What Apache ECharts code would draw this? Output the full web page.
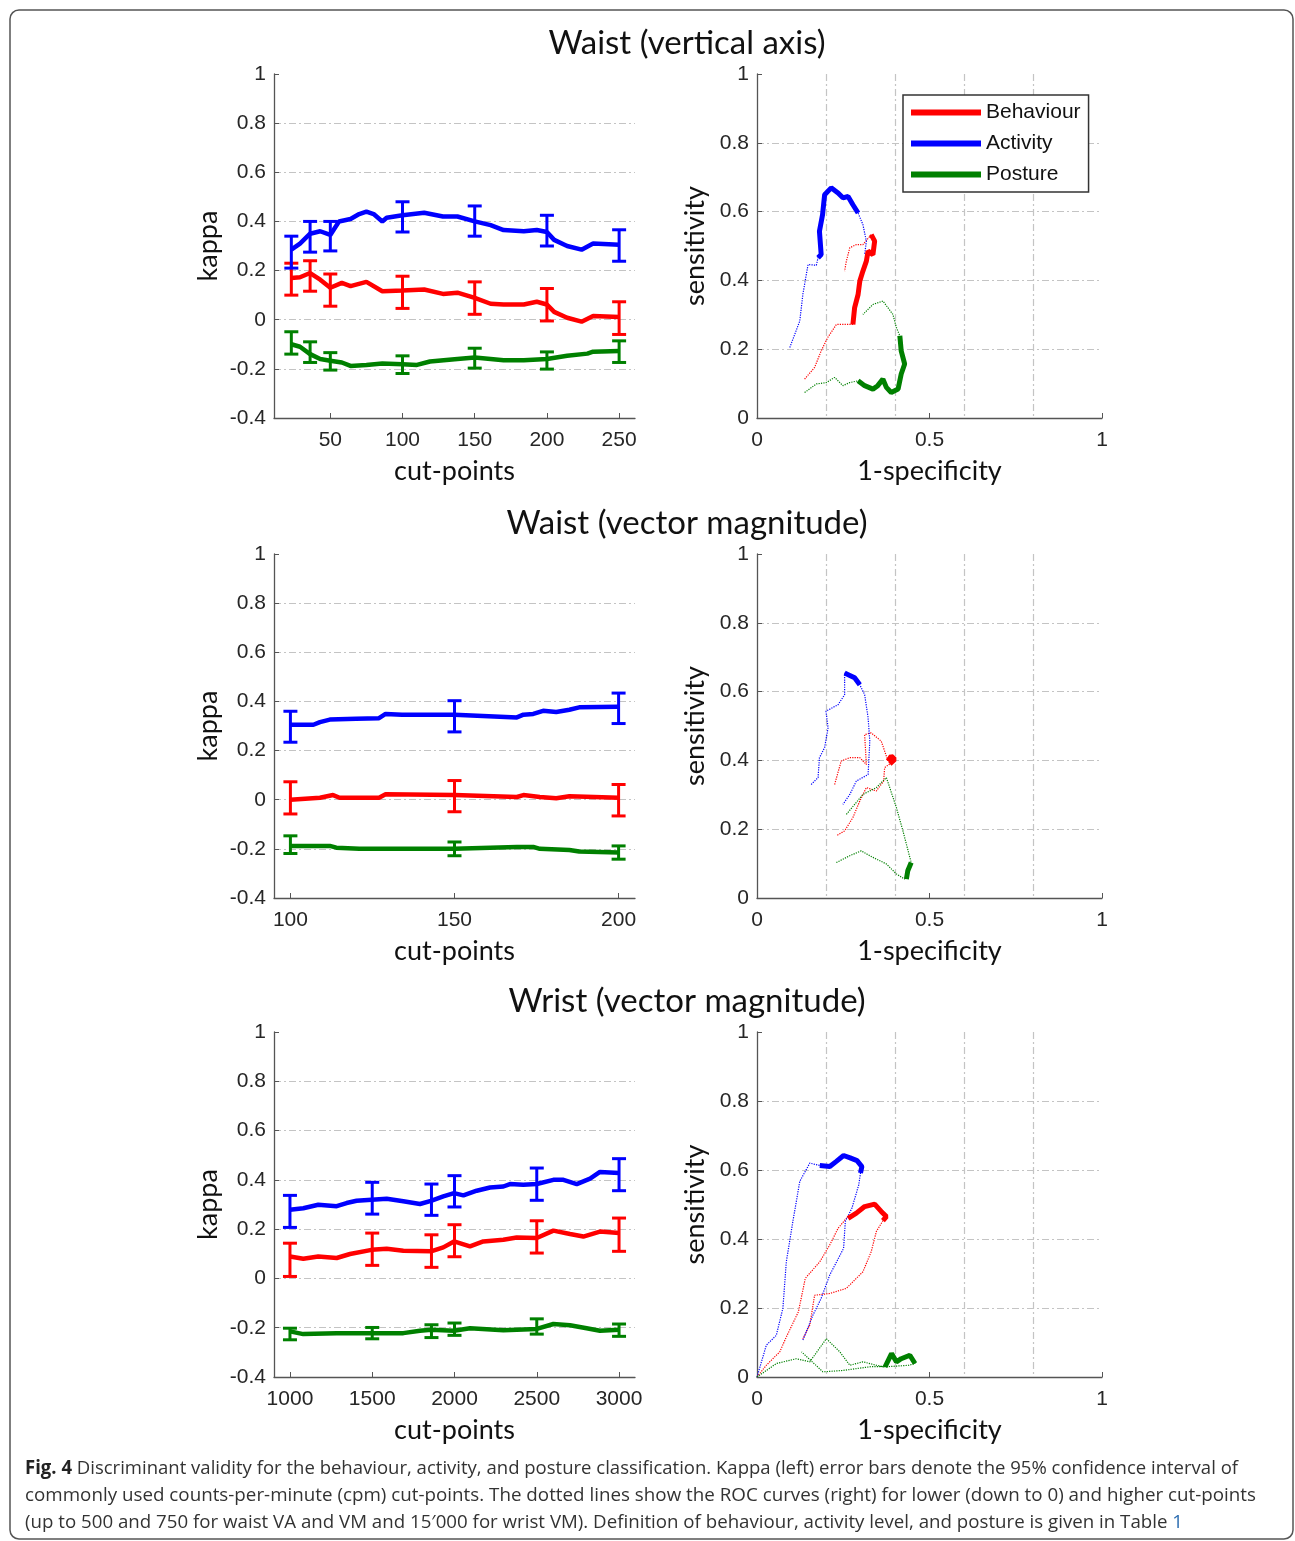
<!DOCTYPE html>
<html>
<head>
<meta charset="utf-8">
<script src="https://cdn.jsdelivr.net/npm/echarts@6/dist/echarts.min.js"></script>
<style>
  html, body { margin: 0; padding: 0; background: #fff; }
  #main { width: 1295px; height: 1541px; }
  #err { position: absolute; left: 20px; top: 20px; font: 14px monospace; white-space: pre-wrap; color: #900; }
</style>
</head>
<body>
<div id="main"></div>
<div id="err"></div>
<script>
// ---- kappa curves (cut-point, kappa) ----
var vaActKappa = [[23,0.285],[29,0.31],[36,0.35],[43,0.36],[50,0.345],[56,0.40],[64,0.41],[70,0.43],[75,0.44],[80,0.43],[86,0.40],[89,0.415],[100,0.425],[115,0.435],[128,0.42],[138,0.42],[150,0.40],[161,0.385],[170,0.365],[184,0.36],[193,0.365],[200,0.357],[205,0.325],[214,0.30],[224,0.285],[232,0.31],[250,0.305]];
var vaBehKappa = [[23,0.17],[29,0.173],[36,0.19],[43,0.163],[50,0.13],[58,0.15],[64,0.137],[75,0.154],[86,0.116],[100,0.119],[115,0.123],[128,0.105],[138,0.11],[150,0.089],[161,0.065],[170,0.062],[184,0.062],[193,0.073],[200,0.062],[205,0.032],[214,0.008],[224,-0.008],[232,0.015],[250,0.011]];
var vaPosKappa = [[23,-0.10],[29,-0.11],[36,-0.14],[43,-0.16],[50,-0.167],[58,-0.174],[64,-0.188],[75,-0.184],[86,-0.178],[100,-0.181],[110,-0.184],[119,-0.17],[138,-0.16],[150,-0.154],[161,-0.16],[170,-0.165],[184,-0.165],[200,-0.16],[214,-0.147],[228,-0.138],[232,-0.13],[250,-0.127]];
// error bars: [cut-point, low, high]
var vaActErr = [[23,0.21,0.34],[36,0.275,0.40],[50,0.28,0.40],[100,0.357,0.48],[150,0.34,0.463],[200,0.30,0.425],[250,0.238,0.366]];
var vaBehErr = [[23,0.10,0.23],[36,0.116,0.24],[50,0.055,0.186],[100,0.046,0.177],[150,0.022,0.154],[200,-0.005,0.127],[250,-0.06,0.073]];
var vaPosErr = [[23,-0.14,-0.049],[36,-0.174,-0.09],[50,-0.205,-0.134],[100,-0.219,-0.147],[150,-0.197,-0.116],[200,-0.201,-0.131],[250,-0.174,-0.086]];

var vmActKappa = [[100,0.305],[107,0.305],[109,0.316],[112,0.326],[120,0.33],[127,0.332],[129,0.349],[134,0.346],[150,0.346],[169,0.335],[171,0.346],[174,0.349],[177,0.362],[181,0.357],[185,0.366],[188,0.376],[200,0.378]];
var vmBehKappa = [[100,0],[109,0.008],[113,0.019],[115,0.008],[127,0.008],[129,0.022],[150,0.019],[169,0.011],[171,0.019],[176,0.011],[181,0.006],[185,0.014],[200,0.008]];
var vmPosKappa = [[100,-0.188],[112,-0.188],[114,-0.195],[121,-0.20],[150,-0.20],[169,-0.192],[174,-0.192],[176,-0.20],[185,-0.205],[188,-0.211],[200,-0.215]];
var vmActErr = [[100,0.234,0.36],[150,0.276,0.403],[200,0.31,0.434]];
var vmBehErr = [[100,-0.058,0.073],[150,-0.049,0.078],[200,-0.066,0.062]];
var vmPosErr = [[100,-0.219,-0.147],[150,-0.228,-0.172],[200,-0.242,-0.188]];

var wrActKappa = [[1000,0.279],[1081,0.285],[1172,0.299],[1284,0.293],[1344,0.306],[1405,0.315],[1496,0.319],[1588,0.323],[1689,0.313],[1790,0.302],[1857,0.315],[1932,0.333],[1997,0.346],[2054,0.337],[2135,0.356],[2216,0.369],[2297,0.373],[2337,0.383],[2418,0.38],[2500,0.383],[2601,0.40],[2662,0.40],[2743,0.383],[2824,0.405],[2884,0.432],[3000,0.428]];
var wrBehKappa = [[1000,0.089],[1081,0.08],[1172,0.089],[1284,0.083],[1365,0.099],[1496,0.116],[1588,0.12],[1689,0.112],[1857,0.11],[1932,0.126],[1997,0.15],[2094,0.13],[2175,0.15],[2297,0.157],[2378,0.166],[2500,0.164],[2601,0.194],[2702,0.18],[2783,0.17],[2884,0.19],[3000,0.184]];
var wrPosKappa = [[1000,-0.215],[1081,-0.226],[1284,-0.222],[1496,-0.222],[1689,-0.222],[1790,-0.212],[1857,-0.208],[1997,-0.212],[2094,-0.202],[2297,-0.21],[2500,-0.205],[2601,-0.185],[2702,-0.19],[2803,-0.202],[2884,-0.212],[3000,-0.208]];
var wrActErr = [[1000,0.207,0.337],[1500,0.261,0.39],[1860,0.256,0.383],[2000,0.29,0.417],[2500,0.317,0.448],[3000,0.356,0.486]];
var wrBehErr = [[1000,0.008,0.143],[1500,0.053,0.184],[1860,0.045,0.177],[2000,0.088,0.218],[2500,0.103,0.234],[3000,0.11,0.245]];
var wrPosErr = [[1000,-0.249,-0.202],[1500,-0.245,-0.199],[1860,-0.24,-0.188],[2000,-0.231,-0.181],[2500,-0.226,-0.164],[3000,-0.235,-0.185]];

// ---- ROC curves (1-specificity, sensitivity): lower tail, core (common cut-points), upper tail ----
var vaActRoc = {low: [[0.095,0.205],[0.124,0.282],[0.133,0.36],[0.148,0.446],[0.172,0.444]],
  core: [[0.177,0.466],[0.186,0.475],[0.181,0.543],[0.19,0.591],[0.196,0.649],[0.215,0.669],[0.235,0.654],[0.249,0.64],[0.264,0.644],[0.278,0.62],[0.293,0.596]],
  high: [[0.307,0.562],[0.317,0.514],[0.312,0.475]]};
var vaBehRoc = {low: [[0.138,0.113],[0.167,0.147],[0.186,0.195],[0.205,0.234],[0.23,0.272],[0.259,0.272]],
  core: [[0.278,0.272],[0.283,0.321],[0.293,0.359],[0.298,0.398],[0.307,0.427],[0.317,0.456],[0.322,0.485],[0.336,0.475],[0.341,0.514],[0.331,0.533]],
  high: [[0.307,0.504],[0.288,0.504],[0.269,0.495],[0.259,0.456],[0.254,0.427]]};
var vaPosRoc = {low: [[0.138,0.074],[0.172,0.099],[0.201,0.103],[0.225,0.118],[0.249,0.094],[0.269,0.103]],
  core: [[0.293,0.108],[0.312,0.094],[0.336,0.084],[0.35,0.094],[0.365,0.113],[0.375,0.089],[0.389,0.074],[0.409,0.084],[0.418,0.128],[0.428,0.157],[0.418,0.195],[0.414,0.239]],
  high: [[0.404,0.263],[0.394,0.301],[0.365,0.34],[0.336,0.33],[0.307,0.301]]};

var vmActRoc = {low: [[0.157,0.33],[0.177,0.35],[0.181,0.408],[0.196,0.437],[0.206,0.495],[0.2,0.543],[0.235,0.562],[0.254,0.591]],
  core: [[0.254,0.654],[0.269,0.647],[0.283,0.64],[0.298,0.62]],
  high: [[0.312,0.591],[0.322,0.524],[0.327,0.456],[0.322,0.359],[0.288,0.34],[0.269,0.301],[0.249,0.272]]};
var vmBehRoc = {low: [[0.225,0.33],[0.244,0.398],[0.269,0.408],[0.298,0.408],[0.317,0.388],[0.312,0.475],[0.331,0.48],[0.36,0.456]],
  core: [[0.38,0.398],[0.389,0.413],[0.399,0.403],[0.385,0.39]],
  high: [[0.37,0.379],[0.367,0.34],[0.346,0.311],[0.317,0.321],[0.298,0.282],[0.278,0.234],[0.254,0.195],[0.23,0.181]]};
var vmPosRoc = {low: [[0.23,0.103],[0.269,0.123],[0.302,0.137],[0.336,0.118],[0.375,0.099],[0.404,0.07],[0.428,0.055]],
  core: [[0.433,0.055],[0.437,0.079],[0.447,0.103]],
  high: [[0.443,0.118],[0.423,0.195],[0.404,0.263],[0.375,0.35],[0.346,0.321],[0.307,0.301],[0.259,0.243]]};

var wrActRoc = {low: [[0,0],[0.027,0.092],[0.056,0.121],[0.075,0.199],[0.085,0.334],[0.104,0.451],[0.124,0.567],[0.153,0.62]],
  core: [[0.182,0.613],[0.211,0.61],[0.23,0.625],[0.251,0.642],[0.27,0.635],[0.29,0.627],[0.304,0.61],[0.3,0.591]],
  high: [[0.295,0.557],[0.275,0.489],[0.256,0.451],[0.251,0.373],[0.211,0.296],[0.186,0.228],[0.162,0.179],[0.133,0.107]]};
var wrBehRoc = {low: [[0,0],[0.027,0.034],[0.066,0.073],[0.085,0.116],[0.12,0.189],[0.14,0.286],[0.182,0.334],[0.211,0.383],[0.235,0.431],[0.259,0.46]],
  core: [[0.264,0.46],[0.288,0.475],[0.312,0.494],[0.341,0.501],[0.36,0.48],[0.375,0.465],[0.365,0.453]],
  high: [[0.346,0.422],[0.331,0.363],[0.307,0.305],[0.259,0.257],[0.211,0.242],[0.167,0.237],[0.153,0.15],[0.133,0.111]]};
var wrPosRoc = {low: [[0,0],[0.056,0.039],[0.114,0.053],[0.153,0.044],[0.201,0.111],[0.24,0.073],[0.269,0.034],[0.307,0.044],[0.346,0.034]],
  core: [[0.371,0.029],[0.39,0.068],[0.404,0.044],[0.418,0.053],[0.443,0.063],[0.458,0.039]],
  high: [[0.44,0.034],[0.38,0.03],[0.33,0.03],[0.249,0.019],[0.191,0.015],[0.129,0.073]]};

var panelTitles = ['Waist (vertical axis)', 'Waist (vector magnitude)', 'Wrist (vector magnitude)'];
var cutRanges = [[11, 261], [95, 205], [903, 3097]];
var cutTicks = [[50, 100, 150, 200, 250], [100, 150, 200], [1000, 1500, 2000, 2500, 3000]];
var names = ['Behaviour', 'Activity', 'Posture'];
var colors = ['#ff0000', '#0000ff', '#008000'];

var kappaSets = [
    [vaBehKappa, vaActKappa, vaPosKappa],
    [vmBehKappa, vmActKappa, vmPosKappa],
    [wrBehKappa, wrActKappa, wrPosKappa]
];
var errSets = [
    [vaBehErr, vaActErr, vaPosErr],
    [vmBehErr, vmActErr, vmPosErr],
    [wrBehErr, wrActErr, wrPosErr]
];
var rocSets = [
    [vaBehRoc, vaActRoc, vaPosRoc],
    [vmBehRoc, vmActRoc, vmPosRoc],
    [wrBehRoc, wrActRoc, wrPosRoc]
];

var axisCol = '#555';
function nameFont() { return { fontFamily: 'Lato', fontSize: 27, color: '#111' }; }
function axLine() { return { show: true, onZero: false, lineStyle: { color: axisCol, width: 1.3 } }; }
function axTick(vals) {
    var t = { show: true, inside: true, length: 5, lineStyle: { color: axisCol } };
    if (vals) t.customValues = vals;
    return t;
}
function axLabel(margin, vals) {
    var l = { margin: margin, fontFamily: 'Liberation Sans', fontSize: 21, color: '#262626', formatter: fmtNum };
    if (vals) l.customValues = vals;
    return l;
}
function gridLine() {
    return { show: true, showMinLine: false, showMaxLine: false, lineStyle: { color: '#c4c4c4', width: 1.2, type: [7, 3, 2, 3] } };
}
function fmtNum(v) { return String(Math.round(v * 10) / 10); }

var panelTops = [74, 554, 1032];
var panelHeights = [344, 344, 345];
var grids = [], xAxes = [], yAxes = [], series = [];

function renderErr(params, api) {
    var x = api.value(0);
    var lo = api.coord([x, api.value(1)]);
    var hi = api.coord([x, api.value(2)]);
    var w = 7;
    var col = api.visual('color');
    return {
        type: 'group',
        children: [
            { type: 'line', shape: { x1: lo[0], y1: lo[1], x2: hi[0], y2: hi[1] }, style: { stroke: col, lineWidth: 3 } },
            { type: 'line', shape: { x1: lo[0] - w, y1: lo[1], x2: lo[0] + w, y2: lo[1] }, style: { stroke: col, lineWidth: 3 } },
            { type: 'line', shape: { x1: hi[0] - w, y1: hi[1], x2: hi[0] + w, y2: hi[1] }, style: { stroke: col, lineWidth: 3 } }
        ]
    };
}

for (var p = 0; p < 3; p++) {
    var panelTop = panelTops[p];
    var gL = grids.length;
    grids.push({ left: 274, top: panelTop, width: 361, height: panelHeights[p] });
    grids.push({ left: 757, top: panelTop, width: 345, height: panelHeights[p] });

    // kappa panel axes
    var xL = xAxes.length;
    xAxes.push({
        type: 'value', gridIndex: gL, min: cutRanges[p][0], max: cutRanges[p][1],
        name: 'cut-points', nameLocation: 'middle', nameGap: 40, nameTextStyle: nameFont(),
        axisLine: axLine(), axisTick: axTick(cutTicks[p]), axisLabel: axLabel(12, cutTicks[p]),
        splitLine: { show: false }
    });
    var yL = yAxes.length;
    yAxes.push({
        type: 'value', gridIndex: gL, min: -0.4, max: 1, interval: 0.2,
        name: 'kappa', nameLocation: 'middle', nameGap: 52, nameTextStyle: nameFont(),
        axisLine: axLine(), axisTick: axTick(), axisLabel: axLabel(8),
        splitLine: gridLine()
    });

    // ROC panel axes: labelled axis + a hidden one carrying the 0.2 grid
    var xR = xAxes.length;
    xAxes.push({
        type: 'value', gridIndex: gL + 1, min: 0, max: 1, interval: 0.5,
        name: '1-specificity', nameLocation: 'middle', nameGap: 40, nameTextStyle: nameFont(),
        axisLine: axLine(), axisTick: axTick(), axisLabel: axLabel(12),
        splitLine: { show: false }
    });
    xAxes.push({
        type: 'value', gridIndex: gL + 1, min: 0, max: 1, interval: 0.2, position: 'top',
        axisLine: { show: false, onZero: false }, axisTick: { show: false }, axisLabel: { show: false },
        splitLine: gridLine()
    });
    var yR = yAxes.length;
    yAxes.push({
        type: 'value', gridIndex: gL + 1, min: 0, max: 1, interval: 0.2,
        name: 'sensitivity', nameLocation: 'middle', nameGap: 48, nameTextStyle: nameFont(),
        axisLine: axLine(), axisTick: axTick(), axisLabel: axLabel(8),
        splitLine: gridLine()
    });

    for (var k = 0; k < 3; k++) {
        series.push({
            name: names[k], type: 'line', xAxisIndex: xL, yAxisIndex: yL,
            data: kappaSets[p][k], showSymbol: false,
            itemStyle: { color: colors[k] }, lineStyle: { width: 4.5, color: colors[k] }, z: 3
        });
        series.push({
            name: names[k], type: 'custom', xAxisIndex: xL, yAxisIndex: yL,
            data: errSets[p][k], renderItem: renderErr,
            itemStyle: { color: colors[k] }, encode: { x: 0, y: [1, 2] }, z: 4
        });
        var roc = rocSets[p][k];
        series.push({
            name: names[k], type: 'line', xAxisIndex: xR, yAxisIndex: yR,
            data: roc.low.concat(roc.core, roc.high), showSymbol: false,
            itemStyle: { color: colors[k] }, lineStyle: { width: 1.2, type: 'dotted', color: colors[k] }, z: 3
        });
        series.push({
            name: names[k], type: 'line', xAxisIndex: xR, yAxisIndex: yR,
            data: roc.core, showSymbol: false,
            itemStyle: { color: colors[k] }, lineStyle: { width: 5, color: colors[k] }, z: 4
        });
    }
}

var graphics = [
    { type: 'rect', shape: { x: 10, y: 10, width: 1283, height: 1529, r: 9 }, style: { fill: 'none', stroke: '#555', lineWidth: 1.5 }, z: -1 }
];
for (var t = 0; t < 3; t++) {
    graphics.push({
        type: 'text', x: 687, y: panelTops[t] - 31,
        style: { text: panelTitles[t], fontFamily: 'Lato', fontSize: 33, fill: '#111', align: 'center', verticalAlign: 'middle' }
    });
}

// caption: Open Sans squeezed horizontally to the width of each reference line
var captionBold = ['Fig. 4', '', ''];
var captionText = [
    ' Discriminant validity for the behaviour, activity, and posture classification. Kappa (left) error bars denote the 95% confidence interval of',
    'commonly used counts-per-minute (cpm) cut-points. The dotted lines show the ROC curves (right) for lower (down to 0) and higher cut-points',
    '(up to 500 and 750 for waist VA and VM and 15\u2032000 for wrist VM). Definition of behaviour, activity level, and posture is given in Table '
];
var captionLink = ['', '', '1'];
var captionWidths = [1213, 1231, 1158];
var capSize = 19;
var measure = document.createElement('canvas').getContext('2d');
function textW(s, bold) {
    measure.font = (bold ? 'bold ' : '') + capSize + 'px "Open Sans"';
    return measure.measureText(s).width;
}
for (var c = 0; c < 3; c++) {
    var full = textW(captionBold[c], true) + textW(captionText[c] + captionLink[c], false);
    var sx = captionWidths[c] / full;
    var str = (captionBold[c] ? '{b|' + captionBold[c] + '}' : '') + captionText[c] + (captionLink[c] ? '{l|' + captionLink[c] + '}' : '');
    graphics.push({
        type: 'text', x: 25, y: 1469 + c * 27, scaleX: sx,
        style: {
            text: str, fontFamily: 'Open Sans', fontSize: capSize, fill: '#333',
            verticalAlign: 'middle',
            rich: {
                b: { fontFamily: 'Open Sans', fontSize: capSize, fontWeight: 'bold', fill: '#222' },
                l: { fontFamily: 'Open Sans', fontSize: capSize, fill: '#2b6cb0' }
            }
        }
    });
}

var option = {
    animation: false,
    backgroundColor: '#fff',
    legend: {
        data: names, orient: 'vertical', left: 903, top: 95,
        icon: 'rect', itemWidth: 70, itemHeight: 6, itemGap: 10,
        backgroundColor: '#fff', borderColor: '#333', borderWidth: 1.5,
        padding: [7, 8, 7, 8],
        textStyle: { fontFamily: 'Liberation Sans', fontSize: 21, color: '#111' },
        z: 10
    },
    grid: grids,
    xAxis: xAxes,
    yAxis: yAxes,
    series: series,
    graphic: graphics
};

try {
    var myChart = echarts.init(document.getElementById('main'));
    myChart.setOption(option, true);
} catch (e) {
    document.getElementById('err').textContent = String(e) + '\n' + (e.stack || '').slice(0, 2500);
}
</script>
</body>
</html>
